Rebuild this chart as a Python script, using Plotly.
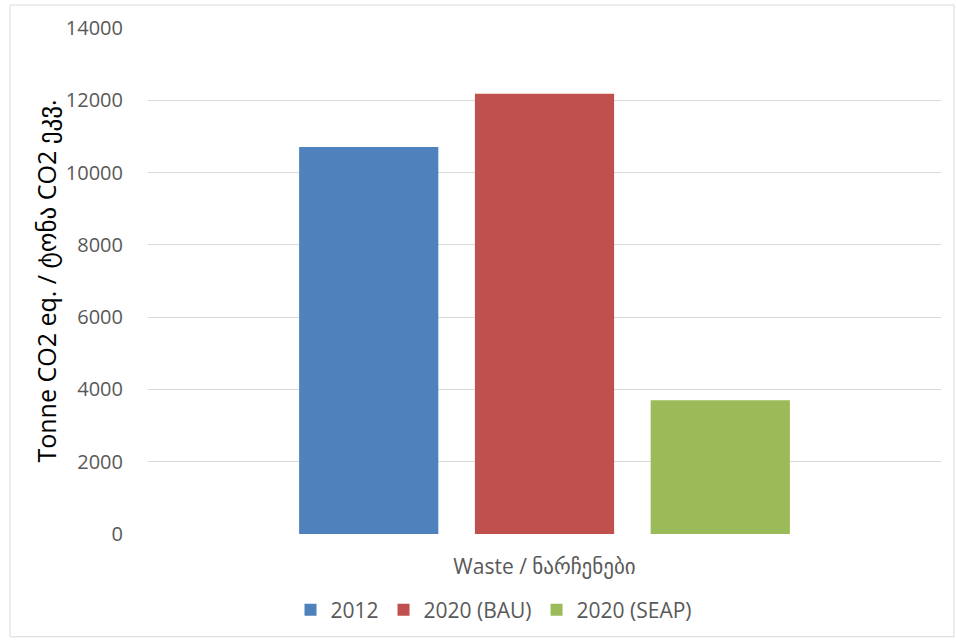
import plotly.graph_objects as go

# Emissions from the waste sector, tonnes of CO2 equivalent
category = ["Waste / ნარჩენები"]
series_names = ["2012", "2020 (BAU)", "2020 (SEAP)"]
series_values = [[10710], [12180], [3700]]
series_colors = ["#4F81BD", "#C0504D", "#9BBB59"]
y_ticks = [0, 2000, 4000, 6000, 8000, 10000, 12000, 14000]

FONT = "Open Sans, DejaVu Sans, sans-serif"
GRAY = "#595959"

fig = go.Figure()
for name, vals, col in zip(series_names, series_values, series_colors):
    fig.add_trace(go.Bar(x=category, y=vals, name=name, marker_color=col,
                         marker_line_width=0))

# plot-area pixel box, used to place the outer chart border in paper units
L, R, T, B = 148, 15, 28, 106
W, H = 956, 641
pw, ph = W - L - R, H - T - B

def px_x(p):
    return (p - L) / pw

def px_y(p):
    return (H - B - p) / ph

fig.update_layout(
    width=W, height=H,
    margin=dict(l=L, r=R, t=T, b=B),
    paper_bgcolor="white", plot_bgcolor="white",
    barmode="group", bargap=0.335, bargroupgap=0.208,
    font=dict(family=FONT, color=GRAY, size=18),
    showlegend=True,
    legend=dict(orientation="h", x=px_x(494), xanchor="center",
                y=px_y(610), yanchor="middle",
                font=dict(family=FONT, size=21, color=GRAY),
                itemwidth=30, traceorder="normal"),
    shapes=[dict(type="rect", xref="paper", yref="paper",
                 x0=px_x(10), x1=px_x(954), y0=px_y(638), y1=px_y(5),
                 line=dict(color="#D9D9D9", width=1), layer="below")],
)

fig.update_yaxes(
    range=[0, 14000], tickvals=y_ticks, ticktext=[str(v) for v in y_ticks],
    showgrid=True, gridcolor="#D9D9D9", gridwidth=1.3,
    zeroline=False, showline=False, ticks="",
    ticklabelstandoff=24,
    tickfont=dict(family=FONT, size=20, color=GRAY),
    title=dict(text="Tonne CO2 eq. / ტონა CO2 ეკვ.",
               font=dict(family=FONT, size=25, color="black"), standoff=2),
    automargin=False,
)
fig.update_xaxes(
    showgrid=False, zeroline=False, showline=False, ticks="",
    ticklabelstandoff=18,
    tickfont=dict(family=FONT, size=21, color=GRAY),
    automargin=False,
)

fig.write_html("out.html")
